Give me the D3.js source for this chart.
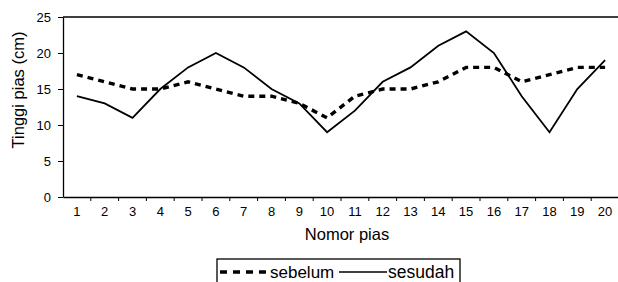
<!DOCTYPE html>
<html><head><meta charset="utf-8">
<script src="https://cdn.jsdelivr.net/npm/d3@7"></script>
<style>body{margin:0;background:#fff}text{font-family:"Liberation Sans",Arial,sans-serif;fill:#000}</style>
</head><body><svg id="c" width="618" height="282"></svg>
<script>
const categories = d3.range(1, 21).map(String);
const sebelum = [17,16,15,15,16,15,14,14,13,11,14,15,15,16,18,18,16,17,18,18];
const sesudah = [14,13,11,15,18,20,18,15,13,9,12,16,18,21,23,20,14,9,15,19];
const yTicks = [0,5,10,15,20,25];

const svg = d3.select("#c");
const m = {l:63, r:-1};
const W = 618;
const x = d3.scaleBand().domain(categories).range([m.l, W - m.r]);
const y = d3.scaleLinear().domain([0,25]).range([197, 17]);

// top line
svg.append("line").attr("x1", m.l).attr("x2", W).attr("y1", y(25)).attr("y2", y(25)).attr("stroke","#000").attr("stroke-width",1.3);

const ya = svg.append("g").attr("transform",`translate(${m.l},0)`).call(d3.axisLeft(y).tickValues(yTicks).tickSize(5).tickPadding(7).tickSizeOuter(0));
ya.selectAll("text").style("font-size","13px");
ya.select(".domain").attr("stroke-width",1.3);

const xa = svg.append("g").attr("transform",`translate(0,${y(0)})`).call(d3.axisBottom(x).tickSize(0).tickSizeOuter(0));
xa.selectAll("text").style("font-size","13px").attr("dy","1.22em");
xa.select(".domain").attr("stroke-width",1.3);
// boundary ticks
svg.append("g").selectAll("line").data(categories.slice(1)).join("line")
  .attr("x1", d => x(d)).attr("x2", d => x(d)).attr("y1", y(0)).attr("y2", y(0)+4).attr("stroke","#000");

const line = d3.line().x((d,i) => x(categories[i]) + x.bandwidth()/2).y(d => y(d));
svg.append("path").datum(sebelum).attr("d", line).attr("fill","none").attr("stroke","#000").attr("stroke-width",3.4).attr("stroke-dasharray","6,5");
svg.append("path").datum(sesudah).attr("d", line).attr("fill","none").attr("stroke","#000").attr("stroke-width",1.8);

svg.append("text").attr("x",347).attr("y",240).attr("text-anchor","middle").style("font-size","16.5px").text("Nomor pias");
svg.append("text").attr("transform","translate(24,90) rotate(-90)").attr("text-anchor","middle").style("font-size","16.5px").text("Tinggi pias (cm)");

// legend
const lg = svg.append("g");
lg.append("rect").attr("x",217).attr("y",259).attr("width",243).attr("height",30).attr("fill","none").attr("stroke","#000").attr("stroke-width",1.3);
lg.append("line").attr("x1",220).attr("x2",267).attr("y1",272).attr("y2",272).attr("stroke","#000").attr("stroke-width",3.4).attr("stroke-dasharray","7,6");
lg.append("text").attr("x",270).attr("y",278).style("font-size","17px").text("sebelum");
lg.append("line").attr("x1",339).attr("x2",387).attr("y1",272).attr("y2",272).attr("stroke","#000").attr("stroke-width",1.6);
lg.append("text").attr("x",388).attr("y",278).style("font-size","17.5px").text("sesudah");
</script></body></html>
